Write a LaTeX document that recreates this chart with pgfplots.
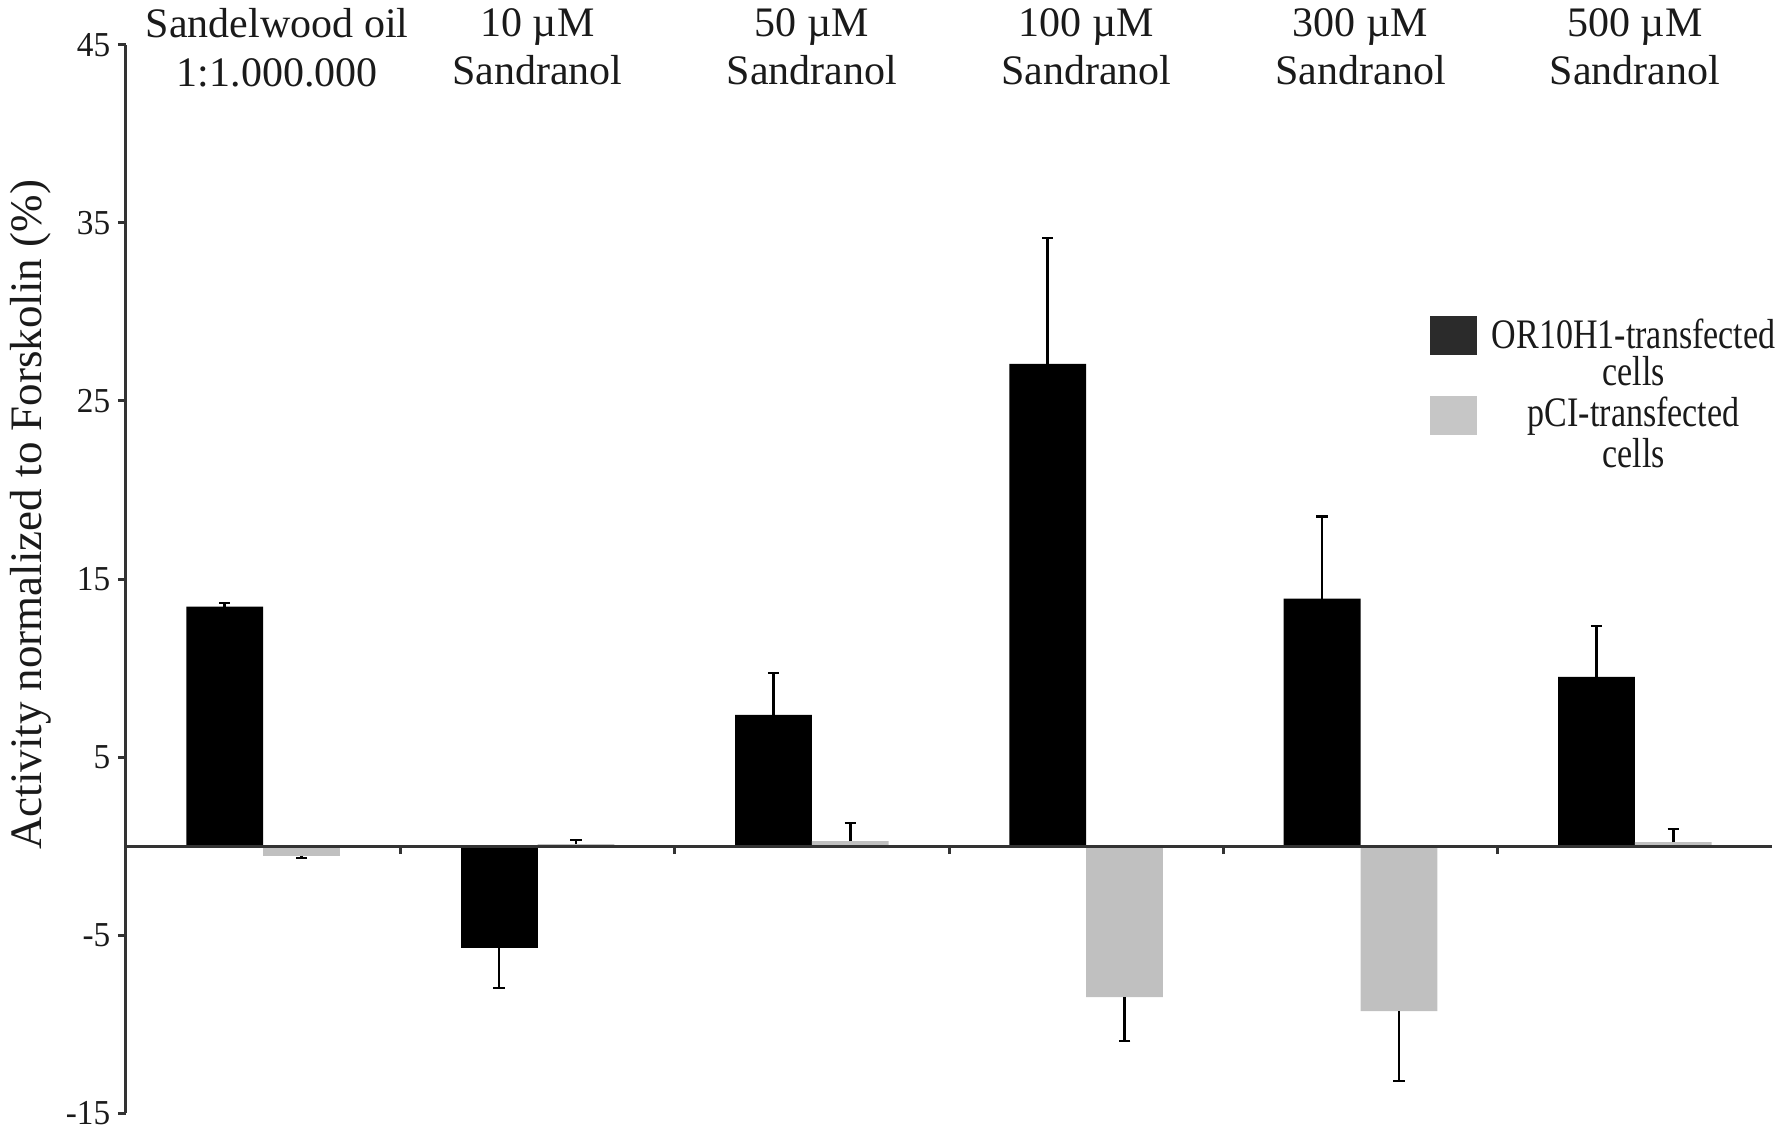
\documentclass[border=0pt]{standalone}
\usepackage{pgfplots}
\usepackage{pgfplotstable}
\pgfplotsset{compat=1.18}
\usepackage{fontspec}
\setmainfont{Liberation Serif}
\newfontfamily\tickfont[FakeStretch=0.95]{Liberation Serif}
\newfontfamily\legfont[FakeStretch=0.81]{Liberation Serif}
\definecolor{barblack}{HTML}{000000}
\definecolor{bargray}{HTML}{C0C0C0}
\definecolor{legblack}{HTML}{2B2B2B}
\definecolor{leggray}{HTML}{C6C6C6}
\definecolor{axisgray}{HTML}{333333}
\definecolor{txt}{HTML}{1A1A1A}

\pgfplotstableread{
x y e
0 13.45 0.20
2 7.36 2.36
3 27.08 7.08
4 13.90 4.60
5 9.50 2.86
}\blackpos
\pgfplotstableread{
x y e
1 -5.73 2.25
}\blackneg
\pgfplotstableread{
x y e
1 0.10 0.24
2 0.28 1.01
5 0.22 0.74
}\graypos
\pgfplotstableread{
x y e
0 -0.56 0.11
3 -8.49 2.47
4 -9.27 3.93
}\grayneg

\pgfplotsset{
  myerr/.style={error bars/.cd, y dir=#1, y explicit,
    error bar style={draw=black, line width=0.8pt},
    error mark options={draw=black, line width=0.8pt, mark size=1.7pt, rotate=90}}
}

\begin{document}
\begin{tikzpicture}
\begin{axis}[
  name=ax, at={(0,0)}, anchor=south west,
  scale only axis, width=493.8pt, height=320.4pt,
  xmin=-0.5, xmax=5.5, ymin=-15, ymax=45,
  axis x line*=middle, axis y line*=left,
  axis line style={line width=0.9pt, axisgray},
  tick style={line width=0.9pt, axisgray},
  tick align=outside, major tick length=2.4pt,
  xtick={0.5,1.5,2.5,3.5,4.5}, xticklabels={},
  ytick={-15,-5,5,15,25,35,45},
  yticklabel style={font=\tickfont\fontsize{10.5}{12}\selectfont, text=txt, xshift=1.2pt},
  /pgf/number format/assume math mode=true,
  ylabel={Activity normalized to Forskolin (\%)},
  ylabel style={at={(axis description cs:-0.0577,0.56)}, anchor=center, font=\fontsize{13.5}{15}\selectfont, text=txt},
  ybar, bar width=0.28,
  clip=false, axis on top,
  legend style={at={(axis description cs:0.792,0.750)}, anchor=north west, draw=none, fill=none, inner sep=0pt, outer sep=0pt, font=\legfont\fontsize{12.6}{11.3}\selectfont, text=txt, cells={align=center, inner sep=0pt}, column sep=2.5pt, row sep=-2.3pt},
  legend cell align=center,
]
\addplot[forget plot, fill=barblack, draw=none, bar shift=-0.14, myerr=plus]
  table[x=x, y=y, y error=e] {\blackpos};
\addplot[forget plot, fill=barblack, draw=none, bar shift=-0.14, myerr=minus]
  table[x=x, y=y, y error=e] {\blackneg};
\addplot[forget plot, fill=bargray, draw=none, bar shift=0.14, myerr=plus]
  table[x=x, y=y, y error=e] {\graypos};
\addplot[forget plot, fill=bargray, draw=none, bar shift=0.14, myerr=minus]
  table[x=x, y=y, y error=e] {\grayneg};

\addlegendimage{legend image code/.code={\fill[legblack] (0pt,0pt) rectangle (13.8pt,11.5pt);}}
\addlegendentry{OR10H1-transfected\\cells}
\addlegendimage{legend image code/.code={\fill[leggray] (0pt,0pt) rectangle (13.8pt,11.5pt);}}
\addlegendentry{pCI-transfected\\cells}

\tikzset{catlab/.style={anchor=north, align=center, inner sep=0pt, font=\fontsize{12.6}{14.5}\selectfont, text=txt}}
\node[catlab] at ([xshift=4.2pt, yshift=11.1pt]axis cs:0,45) {Sandelwood oil\\1:1.000.000};
\node[catlab] at ([yshift=11.1pt]axis cs:1,45) {10 µM\\Sandranol};
\node[catlab] at ([yshift=11.1pt]axis cs:2,45) {50 µM\\Sandranol};
\node[catlab] at ([yshift=11.1pt]axis cs:3,45) {100 µM\\Sandranol};
\node[catlab] at ([yshift=11.1pt]axis cs:4,45) {300 µM\\Sandranol};
\node[catlab] at ([yshift=11.1pt]axis cs:5,45) {500 µM\\Sandranol};
\end{axis}
\pgfresetboundingbox
\path ([xshift=-37.8pt,yshift=-6pt]ax.south west) rectangle ([xshift=496.5pt,yshift=333.9pt]ax.south west);
\end{tikzpicture}
\end{document}
